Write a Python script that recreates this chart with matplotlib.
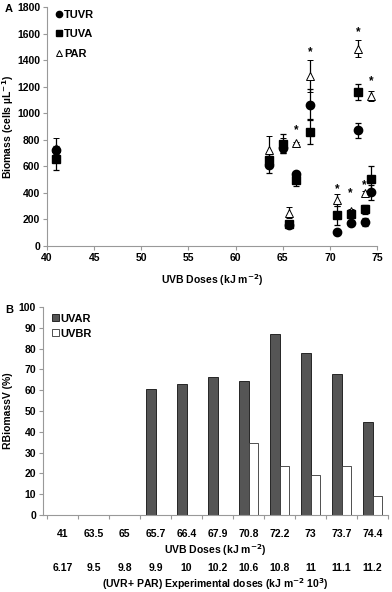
import matplotlib
matplotlib.use("Agg")
import matplotlib.pyplot as plt
import numpy as np

plt.rcParams['font.family'] = ['Liberation Sans', 'DejaVu Sans']
plt.rcParams['font.weight'] = 'bold'

# ---- Panel A data ----
uvb_doses = [41, 63.5, 65, 65.7, 66.4, 67.9, 70.8, 72.2, 73, 73.7, 74.4]
tuvr = [720, 610, 740, 155, 540, 1065, 105, 175, 870, 180, 405]
tuvr_err = [30, 60, 40, 15, 20, 115, 10, 10, 60, 30, 55]
tuva = [655, 650, 770, 165, 495, 860, 230, 240, 1160, 275, 505]
tuva_err = [85, 40, 70, 15, 40, 95, 70, 20, 60, 35, 95]
par = [740, 720, 760, 250, 775, 1280, 345, 260, 1485, 400, 1130]
par_err = [70, 105, 50, 40, 10, 120, 45, 20, 65, 15, 35]
star_x = [66.4, 67.9, 70.8, 72.2, 73, 73.7, 74.4]
star_y = [870, 1460, 430, 400, 1610, 460, 1240]

# ---- Panel B data ----
cat_uvb = ['41', '63.5', '65', '65.7', '66.4', '67.9', '70.8', '72.2', '73', '73.7', '74.4']
cat_exp = ['6.17', '9.5', '9.8', '9.9', '10', '10.2', '10.6', '10.8', '11', '11.1', '11.2']
uvar = [0, 0, 0, 60.5, 63, 66.5, 64.5, 87, 78, 68, 44.5]
uvbr = [0, 0, 0, 0, 0, 0, 34.5, 23.5, 19, 23.5, 9]

W, H = 392, 592
fig = plt.figure(figsize=(W/100, H/100), dpi=100)

def ax_rect(l, t, r, b):
    return [l/W, 1 - b/H, (r-l)/W, (b-t)/H]

spine_col = '#999999'
fs = 7.5

# ---------- Panel A ----------
axA = fig.add_axes(ax_rect(47, 7, 377, 246))
ekw = dict(ecolor='black', elinewidth=0.9, capsize=2, capthick=0.9, linestyle='none')
axA.errorbar(uvb_doses, par, yerr=par_err, marker='^', ms=6, mfc='white', mec='black', mew=0.7, label='PAR', **ekw)
axA.errorbar(uvb_doses, tuva, yerr=tuva_err, marker='s', ms=6, mfc='black', mec='black', label='TUVA', **ekw)
axA.errorbar(uvb_doses, tuvr, yerr=tuvr_err, marker='o', ms=6, mfc='black', mec='black', label='TUVR', **ekw)
for xs, ys in zip(star_x, star_y):
    axA.text(xs, ys, '*', ha='center', va='center', fontsize=8.5, fontweight='bold')
axA.set_xlim(40, 75)
axA.set_ylim(0, 1800)
axA.set_xticks(np.arange(40, 76, 5))
axA.set_yticks(np.arange(0, 1801, 200))
axA.set_xlabel('UVB Doses (kJ m$^{-2}$)', fontsize=fs, fontweight='bold', labelpad=7)
axA.set_ylabel('Biomass (cells µL$^{-1}$)', fontsize=fs, fontweight='bold', labelpad=1)
for s in ['top', 'right']:
    axA.spines[s].set_visible(False)
for s in ['left', 'bottom']:
    axA.spines[s].set_color(spine_col)
axA.tick_params(axis='both', labelsize=fs, color=spine_col, length=3, width=0.8, pad=2)
for lab in axA.get_xticklabels() + axA.get_yticklabels():
    lab.set_fontweight('bold')
h, l = axA.get_legend_handles_labels()
order = [2, 1, 0]
legA = axA.legend([h[i][0] for i in order], [l[i] for i in order], loc='upper left',
                  bbox_to_anchor=(0.0, 1.025), frameon=False, fontsize=8, markerscale=0.75,
                  handlelength=0.6, handletextpad=0.15, labelspacing=0.85, borderpad=0.3)
for t in legA.get_texts():
    t.set_fontweight('bold')
fig.text(5/W, 1 - 9/H, 'A', fontsize=8, fontweight='bold', va='center')

# ---------- Panel B ----------
axB = fig.add_axes(ax_rect(43, 307, 388, 515))
xpos = np.arange(len(cat_uvb))
bw = 0.3
axB.bar(xpos - bw/2, uvar, width=bw, color='#555555', edgecolor='#111111', linewidth=0.6, label='UVAR')
axB.bar(xpos + bw/2, uvbr, width=bw, color='white', edgecolor='#333333', linewidth=0.6, label='UVBR')
axB.set_xlim(-0.63, len(cat_uvb) - 0.5)
axB.set_ylim(0, 100)
axB.set_yticks(np.arange(0, 101, 10))
axB.set_xticks(xpos)
axB.set_xticklabels(cat_uvb)
axB.set_xticks(np.arange(-0.5, len(cat_uvb), 1), minor=True)
axB.tick_params(axis='x', which='major', length=0, labelsize=fs, pad=10)
axB.tick_params(axis='x', which='minor', length=3, color=spine_col, width=0.8)
axB.tick_params(axis='y', labelsize=fs, color=spine_col, length=3, width=0.8, pad=2)
for lab in axB.get_xticklabels() + axB.get_yticklabels():
    lab.set_fontweight('bold')
for s in ['top', 'right']:
    axB.spines[s].set_visible(False)
for s in ['left', 'bottom']:
    axB.spines[s].set_color(spine_col)
axB.set_ylabel('RBiomassV (%)', fontsize=fs, fontweight='bold', labelpad=4)
trans = axB.get_xaxis_transform()
for xp, lab in zip(xpos, cat_exp):
    axB.text(xp, -0.255, lab, transform=trans, ha='center', va='center', fontsize=fs, fontweight='bold')
axB.text(0.5, -0.168, 'UVB Doses (kJ m$^{-2}$)', transform=axB.transAxes, ha='center', va='center',
         fontsize=fs, fontweight='bold')
axB.text(0.5, -0.33, '(UVR+ PAR) Experimental doses (kJ m$^{-2}$ 10$^{3}$)', transform=axB.transAxes,
         ha='center', va='center', fontsize=fs, fontweight='bold')
legB = axB.legend(loc='upper left', bbox_to_anchor=(0.0, 1.01), frameon=False, fontsize=8,
                  handlelength=0.6, handleheight=0.6, handletextpad=0.2, labelspacing=0.45, borderpad=0.3)
for t in legB.get_texts():
    t.set_fontweight('bold')
fig.text(5/W, 1 - 310/H, 'B', fontsize=8, fontweight='bold', va='center')

fig.savefig('out.png', dpi=100)
